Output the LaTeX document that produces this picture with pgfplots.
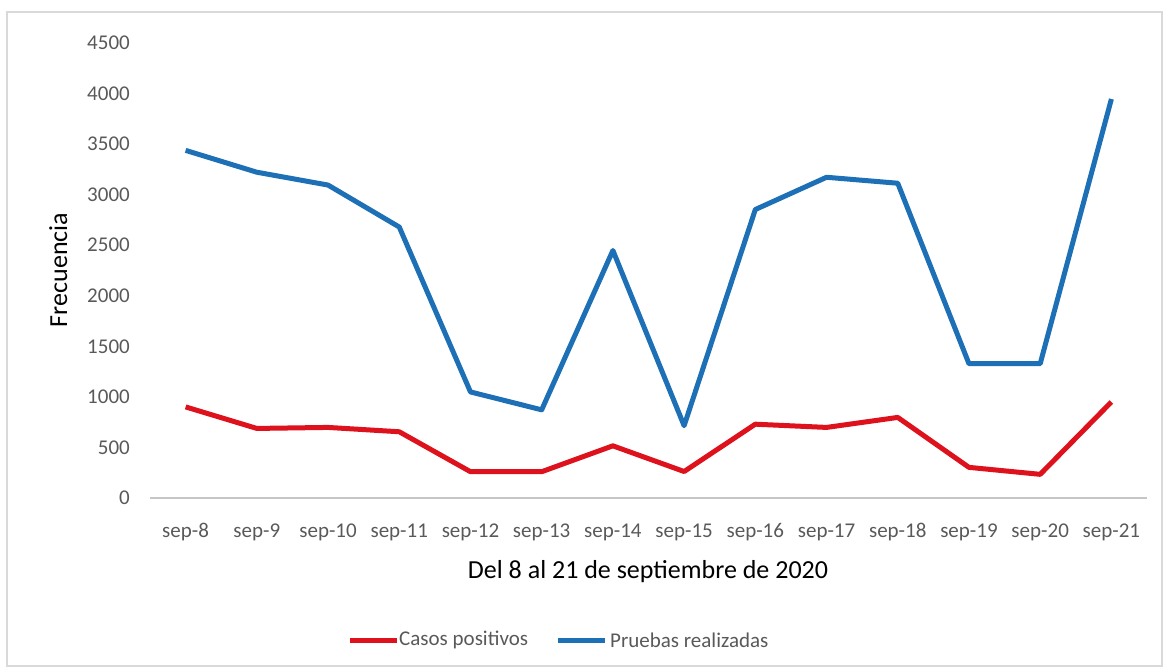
\documentclass[border=0pt]{standalone}
\usepackage{pgfplots}
\pgfplotsset{compat=1.18}
\usepackage{fontspec}
\setmainfont{Carlito}
\definecolor{cred}{RGB}{222,18,28}
\definecolor{cblue}{RGB}{30,112,182}
\definecolor{tgray}{RGB}{89,89,89}
\pgfplotstableread{
x pos pruebas
0 901 3438
1 688 3222
2 698 3095
3 655 2680
4 260 1049
5 260 872
6 516 2448
7 262 715
8 730 2853
9 698 3172
10 797 3113
11 303 1328
12 234 1328
13 950 3946
}\datatab
\begin{document}
\begin{tikzpicture}
\useasboundingbox (0pt,0pt) rectangle (1164pt,670pt);
\draw[gray!30, line width=1.5pt] (7pt,4pt) rectangle (1162pt,658pt);
\begin{axis}[
  scale only axis,
  at={(150pt,172pt)}, anchor=south west,
  width=997pt, height=455pt,
  xmin=-0.5, xmax=13.5, ymin=0, ymax=4500,
  xtick={0,...,13},
  xticklabels={sep-8,sep-9,sep-10,sep-11,sep-12,sep-13,sep-14,sep-15,sep-16,sep-17,sep-18,sep-19,sep-20,sep-21},
  ytick={0,500,...,4500},
  major tick length=0pt,
  axis x line*=bottom, axis y line*=left,
  x axis line style={draw=gray!45, line width=1.2pt},
  y axis line style={draw=none},
  tick label style={font=\fontsize{21}{24}\selectfont, text=tgray},
  /pgf/number format/assume math mode=true,
  /pgf/number format/1000 sep={},
  yticklabel style={anchor=east, inner sep=0pt, xshift=-20pt},
  xticklabel style={anchor=base, inner sep=0pt, yshift=-39pt},
  clip=false,
]
\addplot[cred, line width=5pt, line join=round] table[x=x, y=pos] {\datatab};
\addplot[cblue, line width=5pt, line join=round] table[x=x, y=pruebas] {\datatab};
\end{axis}
\node[font=\fontsize{26}{30}\selectfont, anchor=base] at (648pt,92pt) {Del 8 al 21 de septiembre de 2020};
\node[font=\fontsize{26}{30}\selectfont, rotate=90, anchor=base] at (67pt,400pt) {Frecuencia};
% legend
\draw[cred, line width=5pt] (350pt,30pt) -- (397pt,30pt);
\node[font=\fontsize{21}{24}\selectfont, text=tgray, anchor=west, inner sep=0pt] at (399pt,30pt) {Casos positivos};
\draw[cblue, line width=5pt] (558pt,30pt) -- (605pt,30pt);
\node[font=\fontsize{21}{24}\selectfont, text=tgray, anchor=west, inner sep=0pt] at (610pt,30pt) {Pruebas realizadas};
\end{tikzpicture}
\end{document}
